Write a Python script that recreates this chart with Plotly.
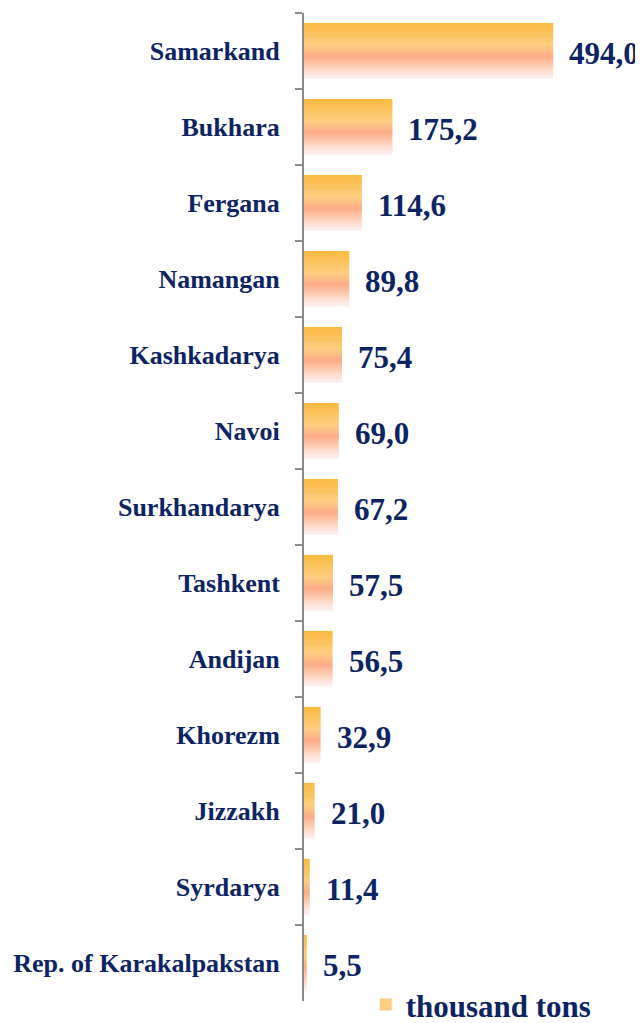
import plotly.graph_objects as go

regions = ["Samarkand", "Bukhara", "Fergana", "Namangan", "Kashkadarya", "Navoi",
           "Surkhandarya", "Tashkent", "Andijan", "Khorezm", "Jizzakh", "Syrdarya",
           "Rep. of Karakalpakstan"]
values = [494.0, 175.2, 114.6, 89.8, 75.4, 69.0, 67.2, 57.5, 56.5, 32.9, 21.0, 11.4, 5.5]
series_name = "thousand tons"

NAVY = "#0d2464"
FONT = "Liberation Serif"

# vertical gradient stops (top -> bottom of each bar)
stops = [(0.0, (251, 186, 62)), (0.2, (252, 196, 95)), (0.4, (253, 205, 130)),
         (0.6, (253, 172, 136)), (0.8, (253, 212, 190)), (1.0, (255, 244, 248))]


def grad(t):
    for (t0, c0), (t1, c1) in zip(stops[:-1], stops[1:]):
        if t0 <= t <= t1:
            f = (t - t0) / (t1 - t0)
            return "rgb(%d,%d,%d)" % tuple(round(a + (b - a) * f) for a, b in zip(c0, c1))
    return "rgb(%d,%d,%d)" % stops[-1][1]


N = 24
BW = 0.74
sw = BW / N
fig = go.Figure()
for i in range(N):
    t = (i + 0.5) / N
    fig.add_trace(go.Bar(
        x=values, y=regions, orientation="h",
        offset=-BW / 2 + i * sw, width=sw * 1.25 if i < N - 1 else sw,
        marker=dict(color=grad(t), line=dict(width=0)),
        name=series_name, showlegend=(i == 9), hoverinfo="skip"))

for r, v in zip(regions, values):
    fig.add_annotation(x=v, y=r, xref="x", yref="y", text=f"{v:.1f}".replace(".", ","),
                       showarrow=False, xanchor="left", yanchor="middle", xshift=14, yshift=-2,
                       font=dict(family=FONT, size=31, color=NAVY, weight="bold"))

# page body has an 8px default margin, so the figure is sized/offset to compensate
fig.update_layout(
    width=635, height=1015,
    margin=dict(l=296, r=0, t=5, b=22, autoexpand=False),
    paper_bgcolor="white", plot_bgcolor="white",
    barmode="overlay",
    showlegend=True,
    legend=dict(x=0.182, y=-0.004, xanchor="left", yanchor="middle", orientation="h",
                font=dict(family=FONT, size=31, color=NAVY, weight="bold"),
                bgcolor="rgba(0,0,0,0)"),
    xaxis=dict(range=[0, 672], visible=False, showgrid=False, zeroline=False),
    yaxis=dict(autorange="reversed", showgrid=False, zeroline=False,
               showline=True, linecolor="#8c8c8c", linewidth=2,
               ticks="outside", tickson="boundaries", ticklen=7, tickcolor="#8c8c8c", tickwidth=2,
               ticklabelstandoff=17,
               tickfont=dict(family=FONT, size=26, color=NAVY, weight="bold")),
)

fig.write_html("out.html")
